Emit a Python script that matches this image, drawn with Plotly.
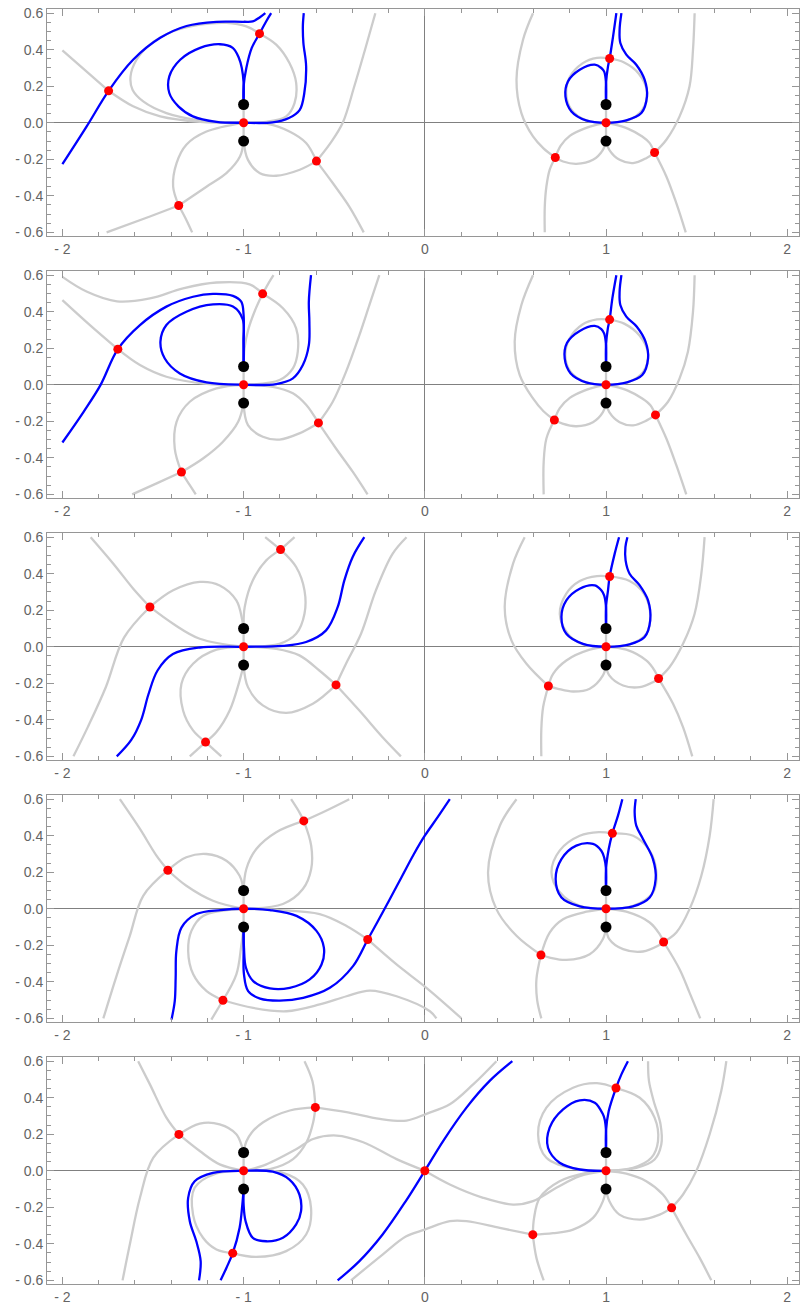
import plotly.graph_objects as go

# ---------------- data ----------------
BLACK_X = [-1, -1, 1, 1]
BLACK_Y = [0.1, -0.1, 0.1, -0.1]

X_TICKS = [-2, -1, 0, 1, 2]
X_TICKTEXT = ["- 2", "- 1", "0", "1", "2"]
Y_TICKS = [-0.6, -0.4, -0.2, 0.0, 0.2, 0.4, 0.6]
Y_TICKTEXT = ["- 0.6", "- 0.4", "- 0.2", "0.0", "0.2", "0.4", "0.6"]

VERT = [[(-1, -0.1), (-1, 0.1)], [(1, -0.1), (1, 0.1)]]

# ---- panel 1 ----
P1_RED_X = [-1.745, -0.912, -1.0, -1.358, -0.598, 1.02, 1.0, 0.72, 1.268]
P1_RED_Y = [0.175, 0.488, 0.0, -0.453, -0.21, 0.352, 0.0, -0.19, -0.163]
P1_BLUE = [
    [(-2.0, -0.227), (-1.866, -0.02), (-1.745, 0.175), (-1.61, 0.345), (-1.46, 0.465), (-1.315, 0.53),
     (-1.15, 0.553), (-1.0, 0.553), (-0.95, 0.555), (-0.91, 0.578), (-0.88, 0.6)],
    [(-1.0, 0.1), (-1.0, 0.2), (-0.985, 0.3), (-0.955, 0.41), (-0.912, 0.488), (-0.875, 0.556), (-0.848, 0.6)],
    [(-1.0, 0.1), (-1.0, 0.22), (-1.01, 0.3), (-1.026, 0.355), (-1.06, 0.41), (-1.13, 0.43), (-1.24, 0.41),
     (-1.35, 0.345), (-1.41, 0.254), (-1.41, 0.163), (-1.36, 0.09), (-1.28, 0.035), (-1.15, 0.005), (-1.0, 0.0),
     (-0.84, 0.002), (-0.75, 0.026), (-0.69, 0.071), (-0.665, 0.163), (-0.655, 0.31), (-0.67, 0.437),
     (-0.673, 0.528), (-0.668, 0.6)],
    [(1.0, 0.1), (1.0, 0.218), (1.011, 0.309), (1.02, 0.352), (1.039, 0.473), (1.057, 0.6)],
    [(1.0, 0.1), (1.0, 0.218), (0.99, 0.28), (0.974, 0.3), (0.938, 0.318), (0.855, 0.29), (0.79, 0.226),
     (0.776, 0.144), (0.809, 0.062), (0.89, 0.013), (1.0, 0.0), (1.112, 0.013), (1.195, 0.053), (1.226, 0.144),
     (1.213, 0.236), (1.167, 0.318), (1.112, 0.373), (1.079, 0.437), (1.075, 0.51), (1.085, 0.6)],
]
P1_GRAY = [
    [(-2.0, 0.396), (-1.866, 0.28), (-1.745, 0.175)],
    [(-1.745, 0.175), (-1.61, 0.09), (-1.46, 0.035), (-1.24, 0.005), (-1.0, 0.0)],
    [(-1.0, 0.0), (-1.242, 0.013), (-1.426, 0.053), (-1.554, 0.117), (-1.613, 0.181), (-1.624, 0.254),
     (-1.591, 0.345), (-1.517, 0.428), (-1.389, 0.501), (-1.242, 0.537), (-1.095, 0.547), (-0.985, 0.528),
     (-0.912, 0.488)],
    [(-0.912, 0.488), (-0.82, 0.428), (-0.747, 0.327), (-0.71, 0.218), (-0.719, 0.108), (-0.765, 0.035),
     (-0.875, 0.005), (-1.0, 0.0)],
    [(-1.0, -0.1), (-1.02, -0.185), (-1.095, -0.276), (-1.205, -0.35), (-1.358, -0.453)],
    [(-1.358, -0.453), (-1.517, -0.513), (-1.756, -0.6)],
    [(-1.0, -0.1), (-0.976, -0.203), (-0.91, -0.276), (-0.82, -0.29), (-0.69, -0.257), (-0.598, -0.21)],
    [(-0.598, -0.21), (-0.52, -0.11), (-0.453, 0.0), (-0.389, 0.2), (-0.33, 0.4), (-0.273, 0.6)],
    [(-1.0, 0.0), (-0.875, -0.005), (-0.747, -0.048), (-0.655, -0.111), (-0.598, -0.21)],
    [(-0.598, -0.21), (-0.508, -0.33), (-0.416, -0.46), (-0.337, -0.6)],
    [(-1.0, 0.0), (-1.205, -0.048), (-1.316, -0.12), (-1.37, -0.221), (-1.389, -0.349), (-1.358, -0.453)],
    [(-1.358, -0.453), (-1.316, -0.532), (-1.284, -0.6)],
    [(0.597, 0.6), (0.542, 0.455), (0.506, 0.236), (0.533, 0.053), (0.597, -0.075), (0.655, -0.14), (0.72, -0.19)],
    [(0.72, -0.19), (0.689, -0.258), (0.671, -0.349), (0.662, -0.459), (0.662, -0.6)],
    [(1.0, 0.0), (0.95, -0.01), (0.88, -0.032), (0.8, -0.072), (0.75, -0.125), (0.72, -0.19)],
    [(1.0, -0.1), (0.983, -0.148), (0.928, -0.203), (0.836, -0.225), (0.763, -0.212), (0.72, -0.19)],
    [(1.489, 0.6), (1.48, 0.4), (1.461, 0.2), (1.406, 0.035), (1.333, -0.093), (1.268, -0.163)],
    [(1.268, -0.163), (1.333, -0.294), (1.388, -0.44), (1.44, -0.6)],
    [(1.0, 0.0), (1.05, -0.01), (1.12, -0.032), (1.2, -0.075), (1.24, -0.11), (1.268, -0.163)],
    [(1.0, -0.1), (1.018, -0.148), (1.075, -0.203), (1.149, -0.221), (1.222, -0.194), (1.268, -0.163)],
    [(1.0, 0.0), (0.89, 0.013), (0.81, 0.07), (0.78, 0.16), (0.8, 0.25), (0.87, 0.325), (0.95, 0.355), (1.02, 0.352)],
    [(1.02, 0.352), (1.1, 0.33), (1.18, 0.27), (1.226, 0.17), (1.2, 0.07), (1.12, 0.013), (1.0, 0.0)],
]

# ---- panel 2 ----
P2_RED_X = [-1.694, -0.895, -1.0, -1.343, -0.587, 1.02, 1.0, 0.715, 1.273]
P2_RED_Y = [0.195, 0.498, 0.0, -0.478, -0.209, 0.357, 0.0, -0.193, -0.165]
P2_BLUE = [
    [(-2.0, -0.316), (-1.883, -0.148), (-1.79, -0.002), (-1.694, 0.195), (-1.572, 0.327), (-1.426, 0.428),
     (-1.279, 0.482), (-1.169, 0.498), (-1.059, 0.487), (-1.013, 0.455), (-1.0, 0.382), (-1.0, 0.236), (-1.0, 0.1)],
    [(-1.0, 0.1), (-1.0, 0.236), (-1.005, 0.36), (-1.059, 0.428), (-1.169, 0.44), (-1.316, 0.4), (-1.426, 0.327),
     (-1.459, 0.236), (-1.435, 0.144), (-1.352, 0.062), (-1.205, 0.013), (-1.0, 0.0), (-0.82, 0.004),
     (-0.728, 0.035), (-0.673, 0.108), (-0.64, 0.217), (-0.637, 0.345), (-0.64, 0.455), (-0.628, 0.6)],
    [(1.0, 0.1), (1.0, 0.218), (1.01, 0.309), (1.02, 0.357), (1.035, 0.473), (1.057, 0.6)],
    [(1.0, 0.1), (1.0, 0.218), (0.99, 0.28), (0.974, 0.305), (0.938, 0.322), (0.855, 0.295), (0.785, 0.23),
     (0.772, 0.144), (0.805, 0.062), (0.89, 0.013), (1.0, 0.0), (1.115, 0.013), (1.2, 0.053), (1.232, 0.144),
     (1.218, 0.236), (1.17, 0.318), (1.112, 0.373), (1.079, 0.437), (1.075, 0.51), (1.085, 0.6)],
]
P2_GRAY = [
    [(-2.0, 0.591), (-1.864, 0.509), (-1.699, 0.457), (-1.517, 0.473), (-1.334, 0.528), (-1.15, 0.56),
     (-0.967, 0.55), (-0.895, 0.498)],
    [(-0.895, 0.498), (-0.783, 0.419), (-0.71, 0.309), (-0.701, 0.181), (-0.728, 0.09), (-0.802, 0.026), (-1.0, 0.0)],
    [(-2.0, 0.464), (-1.848, 0.327), (-1.694, 0.195)],
    [(-1.694, 0.195), (-1.572, 0.108), (-1.426, 0.044), (-1.205, 0.005), (-1.0, 0.0)],
    [(-1.0, 0.1), (-0.995, 0.2), (-0.975, 0.3), (-0.94, 0.4), (-0.895, 0.498)],
    [(-0.895, 0.498), (-0.866, 0.55), (-0.835, 0.6)],
    [(-1.0, -0.1), (-1.03, -0.203), (-1.114, -0.312), (-1.224, -0.404), (-1.343, -0.478)],
    [(-1.343, -0.478), (-1.48, -0.54), (-1.615, -0.6)],
    [(-1.0, 0.0), (-1.15, -0.02), (-1.297, -0.093), (-1.37, -0.203), (-1.38, -0.349), (-1.343, -0.478)],
    [(-1.343, -0.478), (-1.297, -0.55), (-1.264, -0.6)],
    [(-1.0, -0.1), (-0.976, -0.221), (-0.894, -0.285), (-0.802, -0.3), (-0.692, -0.266), (-0.587, -0.209)],
    [(-0.587, -0.209), (-0.508, -0.093), (-0.435, 0.071), (-0.361, 0.272), (-0.306, 0.436), (-0.251, 0.6)],
    [(-1.0, 0.0), (-0.839, -0.011), (-0.728, -0.047), (-0.655, -0.11), (-0.587, -0.209)],
    [(-0.587, -0.209), (-0.49, -0.349), (-0.398, -0.476), (-0.316, -0.6)],
    [(0.597, 0.6), (0.533, 0.437), (0.496, 0.236), (0.524, 0.053), (0.597, -0.075), (0.655, -0.145), (0.715, -0.193)],
    [(0.715, -0.193), (0.671, -0.294), (0.656, -0.422), (0.656, -0.6)],
    [(1.0, 0.0), (0.95, -0.01), (0.88, -0.032), (0.8, -0.072), (0.745, -0.128), (0.715, -0.193)],
    [(1.0, -0.1), (0.983, -0.15), (0.928, -0.205), (0.836, -0.227), (0.76, -0.213), (0.715, -0.193)],
    [(1.489, 0.6), (1.48, 0.4), (1.452, 0.181), (1.406, 0.035), (1.342, -0.093), (1.273, -0.165)],
    [(1.273, -0.165), (1.333, -0.294), (1.388, -0.44), (1.443, -0.6)],
    [(1.0, 0.0), (1.05, -0.01), (1.12, -0.032), (1.2, -0.075), (1.245, -0.112), (1.273, -0.165)],
    [(1.0, -0.1), (1.018, -0.15), (1.075, -0.205), (1.15, -0.222), (1.225, -0.195), (1.273, -0.165)],
    [(1.0, 0.0), (0.89, 0.013), (0.805, 0.07), (0.775, 0.16), (0.8, 0.255), (0.87, 0.33), (0.95, 0.358), (1.02, 0.357)],
    [(1.02, 0.357), (1.1, 0.335), (1.185, 0.27), (1.232, 0.17), (1.205, 0.07), (1.12, 0.013), (1.0, 0.0)],
]

# ---- panel 3 ----
P3_RED_X = [-1.517, -0.796, -1.0, -1.21, -0.49, 1.02, 1.0, 0.682, 1.29]
P3_RED_Y = [0.218, 0.532, 0.0, -0.522, -0.209, 0.385, 0.0, -0.215, -0.174]
P3_BLUE = [
    [(-1.70, -0.6), (-1.62, -0.51), (-1.565, -0.4), (-1.525, -0.26), (-1.475, -0.13), (-1.39, -0.04),
     (-1.242, -0.004), (-1.0, 0.0), (-0.783, 0.005), (-0.655, 0.026), (-0.545, 0.09), (-0.481, 0.217),
     (-0.444, 0.364), (-0.398, 0.492), (-0.334, 0.6)],
    [(1.0, 0.1), (1.0, 0.218), (1.011, 0.309), (1.02, 0.385), (1.048, 0.51), (1.072, 0.6)],
    [(1.0, 0.1), (1.0, 0.218), (0.99, 0.28), (0.974, 0.309), (0.938, 0.336), (0.855, 0.318), (0.781, 0.254),
     (0.754, 0.163), (0.781, 0.071), (0.873, 0.016), (1.0, 0.0), (1.13, 0.013), (1.213, 0.053), (1.244, 0.144),
     (1.232, 0.254), (1.186, 0.336), (1.13, 0.4), (1.108, 0.473), (1.107, 0.546), (1.118, 0.6)],
]
P3_GRAY = [
    [(-1.844, 0.6), (-1.719, 0.455), (-1.609, 0.318), (-1.517, 0.218)],
    [(-1.517, 0.218), (-1.389, 0.126), (-1.242, 0.044), (-1.0, 0.0)],
    [(-1.939, -0.6), (-1.86, -0.44), (-1.76, -0.22), (-1.66, 0.05), (-1.517, 0.218)],
    [(-1.517, 0.218), (-1.389, 0.309), (-1.242, 0.355), (-1.132, 0.336), (-1.04, 0.254), (-1.007, 0.144), (-1.0, 0.1)],
    [(-1.0, 0.1), (-0.994, 0.217), (-0.949, 0.364), (-0.875, 0.473), (-0.796, 0.532)],
    [(-0.796, 0.532), (-0.719, 0.6)],
    [(-0.881, 0.6), (-0.796, 0.532)],
    [(-0.796, 0.532), (-0.71, 0.437), (-0.664, 0.309), (-0.664, 0.181), (-0.71, 0.071), (-0.802, 0.016), (-1.0, 0.0)],
    [(-1.0, -0.1), (-1.022, -0.185), (-1.077, -0.349), (-1.15, -0.467), (-1.21, -0.522)],
    [(-1.21, -0.522), (-1.297, -0.6)],
    [(-1.0, 0.0), (-1.15, -0.016), (-1.279, -0.093), (-1.343, -0.203), (-1.334, -0.349), (-1.279, -0.458),
     (-1.21, -0.522)],
    [(-1.21, -0.522), (-1.123, -0.6)],
    [(-1.0, -0.1), (-0.976, -0.221), (-0.894, -0.321), (-0.765, -0.362), (-0.618, -0.312), (-0.49, -0.209)],
    [(-0.49, -0.209), (-0.435, -0.093), (-0.352, 0.071), (-0.27, 0.309), (-0.178, 0.509), (-0.101, 0.6)],
    [(-1.0, 0.0), (-0.82, -0.011), (-0.692, -0.047), (-0.582, -0.13), (-0.49, -0.209)],
    [(-0.49, -0.209), (-0.361, -0.349), (-0.233, -0.495), (-0.132, -0.6)],
    [(0.551, 0.6), (0.487, 0.455), (0.441, 0.217), (0.478, 0.035), (0.561, -0.093), (0.682, -0.215)],
    [(0.682, -0.215), (0.653, -0.33), (0.643, -0.45), (0.643, -0.6)],
    [(1.544, 0.6), (1.526, 0.4), (1.489, 0.181), (1.425, 0.016), (1.351, -0.111), (1.29, -0.174)],
    [(1.29, -0.174), (1.37, -0.312), (1.425, -0.44), (1.476, -0.6)],
    [(1.0, 0.0), (0.873, 0.013), (0.79, 0.07), (0.745, 0.18), (0.78, 0.29), (0.855, 0.36), (0.95, 0.387), (1.02, 0.385)],
    [(1.02, 0.385), (1.13, 0.36), (1.21, 0.29), (1.244, 0.18), (1.222, 0.07), (1.13, 0.013), (1.0, 0.0)],
    [(1.0, -0.1), (0.983, -0.157), (0.91, -0.23), (0.818, -0.245), (0.735, -0.23), (0.682, -0.215)],
    [(1.0, 0.0), (0.91, -0.016), (0.781, -0.075), (0.708, -0.148), (0.682, -0.215)],
    [(1.0, -0.1), (1.018, -0.157), (1.094, -0.212), (1.186, -0.221), (1.259, -0.194), (1.29, -0.174)],
    [(1.0, 0.0), (1.112, -0.016), (1.222, -0.075), (1.268, -0.13), (1.29, -0.174)],
]

# ---- panel 4 ----
P4_RED_X = [-1.418, -0.668, -1.0, -1.114, -0.315, 1.035, 1.0, 0.641, 1.318]
P4_RED_Y = [0.211, 0.481, 0.0, -0.501, -0.168, 0.413, 0.0, -0.253, -0.182]
P4_BLUE = [
    [(-1.398, -0.607), (-1.38, -0.506), (-1.375, -0.378), (-1.371, -0.231), (-1.343, -0.103), (-1.26, -0.029),
     (-1.127, -0.007), (-1.0, 0.0), (-0.855, -0.007), (-0.708, -0.039), (-0.598, -0.121), (-0.557, -0.213),
     (-0.57, -0.305), (-0.635, -0.387), (-0.745, -0.433), (-0.855, -0.436), (-0.947, -0.396), (-0.987, -0.323),
     (-0.998, -0.213), (-1.0, -0.1)],
    [(-1.0, -0.1), (-1.0, -0.23), (-0.998, -0.359), (-0.975, -0.451), (-0.909, -0.492), (-0.8, -0.503),
     (-0.671, -0.488), (-0.524, -0.433), (-0.396, -0.314), (-0.315, -0.168), (-0.26, -0.07), (-0.2, 0.04),
     (-0.13, 0.17), (-0.06, 0.3), (0.0, 0.4), (0.07, 0.5), (0.138, 0.6)],
    [(1.0, 0.1), (1.0, 0.218), (1.015, 0.327), (1.035, 0.413), (1.066, 0.51), (1.09, 0.6)],
    [(1.0, 0.1), (1.0, 0.218), (0.99, 0.28), (0.974, 0.318), (0.928, 0.355), (0.836, 0.346), (0.754, 0.272),
     (0.722, 0.163), (0.754, 0.062), (0.855, 0.013), (1.0, 0.0), (1.149, 0.013), (1.241, 0.062), (1.274, 0.163),
     (1.259, 0.272), (1.204, 0.382), (1.167, 0.455), (1.158, 0.528), (1.164, 0.6)],
]
P4_GRAY = [
    [(-1.683, 0.6), (-1.572, 0.437), (-1.481, 0.291), (-1.418, 0.211)],
    [(-1.418, 0.211), (-1.316, 0.126), (-1.169, 0.044), (-1.0, 0.0)],
    [(-1.774, -0.6), (-1.701, -0.367), (-1.628, -0.148), (-1.554, 0.071), (-1.418, 0.211)],
    [(-1.418, 0.211), (-1.316, 0.282), (-1.205, 0.3), (-1.095, 0.263), (-1.022, 0.181), (-1.004, 0.126), (-1.0, 0.1)],
    [(-1.0, 0.1), (-0.985, 0.218), (-0.93, 0.327), (-0.82, 0.419), (-0.668, 0.481)],
    [(-0.668, 0.481), (-0.545, 0.537), (-0.417, 0.6)],
    [(-0.738, 0.6), (-0.692, 0.528), (-0.668, 0.481)],
    [(-0.668, 0.481), (-0.627, 0.345), (-0.627, 0.218), (-0.673, 0.108), (-0.783, 0.026), (-1.0, 0.0)],
    [(-1.0, -0.1), (-1.013, -0.203), (-1.04, -0.359), (-1.114, -0.501)],
    [(-1.114, -0.501), (-1.178, -0.607)],
    [(-1.0, 0.0), (-1.224, -0.039), (-1.288, -0.121), (-1.306, -0.231), (-1.278, -0.359), (-1.204, -0.451),
     (-1.114, -0.501)],
    [(-1.114, -0.501), (-0.947, -0.543), (-0.763, -0.561), (-0.58, -0.524), (-0.432, -0.479), (-0.304, -0.448),
     (-0.156, -0.479), (0.028, -0.561), (0.064, -0.6)],
    [(-1.0, 0.0), (-0.8, -0.007), (-0.58, -0.029), (-0.432, -0.094), (-0.315, -0.168)],
    [(-0.315, -0.168), (-0.156, -0.305), (0.009, -0.433), (0.202, -0.6)],
    [(0.506, 0.6), (0.414, 0.455), (0.349, 0.2), (0.395, -0.002), (0.506, -0.148), (0.641, -0.253)],
    [(0.641, -0.253), (0.616, -0.386), (0.62, -0.5), (0.643, -0.6)],
    [(1.594, 0.6), (1.572, 0.4), (1.526, 0.181), (1.461, -0.002), (1.388, -0.13), (1.318, -0.182)],
    [(1.318, -0.182), (1.406, -0.331), (1.461, -0.459), (1.52, -0.6)],
    [(1.0, 0.0), (0.855, 0.016), (0.745, 0.09), (0.699, 0.2), (0.745, 0.32), (0.855, 0.4), (0.96, 0.42), (1.035, 0.413)],
    [(1.035, 0.413), (1.15, 0.4), (1.24, 0.32), (1.278, 0.2), (1.26, 0.09), (1.15, 0.016), (1.0, 0.0)],
    [(1.0, -0.1), (0.983, -0.166), (0.91, -0.249), (0.781, -0.28), (0.689, -0.267), (0.641, -0.253)],
    [(1.0, 0.0), (0.892, -0.016), (0.763, -0.057), (0.689, -0.13), (0.641, -0.253)],
    [(1.0, -0.1), (1.018, -0.166), (1.094, -0.221), (1.204, -0.234), (1.287, -0.203), (1.318, -0.182)],
    [(1.0, 0.0), (1.112, -0.016), (1.241, -0.075), (1.296, -0.139), (1.318, -0.182)],
]

# ---- panel 5 ----
P5_RED_X = [-1.357, -0.604, -1.0, -1.06, 0.0, 1.055, 1.0, 0.596, 1.362]
P5_RED_Y = [0.199, 0.347, 0.0, -0.451, 0.0, 0.453, 0.0, -0.35, -0.203]
P5_BLUE = [
    [(-1.246, -0.6), (-1.237, -0.495), (-1.261, -0.386), (-1.297, -0.276), (-1.306, -0.148), (-1.27, -0.057),
     (-1.169, -0.011), (-1.0, 0.0), (-0.839, -0.005), (-0.747, -0.048), (-0.692, -0.13), (-0.683, -0.221),
     (-0.71, -0.294), (-0.783, -0.367), (-0.875, -0.386), (-0.949, -0.367), (-0.989, -0.276), (-1.0, -0.185),
     (-1.0, -0.1)],
    [(-1.0, -0.1), (-1.007, -0.185), (-1.022, -0.312), (-1.06, -0.451), (-1.095, -0.532), (-1.127, -0.6)],
    [(-0.481, -0.6), (-0.361, -0.495), (-0.233, -0.349), (-0.105, -0.166), (0.0, 0.0), (0.101, 0.163),
     (0.23, 0.346), (0.358, 0.492), (0.483, 0.6)],
    [(1.0, 0.1), (1.0, 0.218), (1.015, 0.327), (1.055, 0.453), (1.085, 0.528), (1.121, 0.6)],
    [(1.0, 0.1), (1.0, 0.218), (0.993, 0.28), (0.983, 0.309), (0.938, 0.373), (0.855, 0.386), (0.763, 0.336),
     (0.689, 0.236), (0.68, 0.126), (0.744, 0.044), (0.855, 0.007), (1.0, 0.0)],
]
P5_GRAY = [
    [(-1.582, 0.6), (-1.517, 0.473), (-1.426, 0.291), (-1.357, 0.199)],
    [(-1.357, 0.199), (-1.242, 0.108), (-1.132, 0.035), (-1.0, 0.0)],
    [(-1.668, -0.6), (-1.628, -0.404), (-1.572, -0.148), (-1.499, 0.071), (-1.357, 0.199)],
    [(-1.357, 0.199), (-1.242, 0.258), (-1.132, 0.254), (-1.04, 0.2), (-1.007, 0.126), (-1.0, 0.1)],
    [(-1.0, 0.1), (-0.985, 0.16), (-0.955, 0.21), (-0.892, 0.266), (-0.745, 0.33), (-0.604, 0.347)],
    [(-0.604, 0.347), (-0.432, 0.321), (-0.248, 0.284), (-0.101, 0.275), (0.009, 0.312), (0.138, 0.364),
     (0.267, 0.473), (0.395, 0.6)],
    [(-0.664, 0.6), (-0.62, 0.49), (-0.604, 0.347)],
    [(-0.604, 0.347), (-0.616, 0.266), (-0.653, 0.156), (-0.727, 0.064), (-0.855, 0.009), (-1.0, 0.0)],
    [(-1.0, 0.0), (-0.892, 0.028), (-0.708, 0.119), (-0.616, 0.174), (-0.487, 0.193), (-0.34, 0.156),
     (-0.156, 0.064), (0.0, 0.0)],
    [(0.0, 0.0), (0.138, -0.075), (0.322, -0.148), (0.487, -0.185), (0.597, -0.166), (0.726, -0.093),
     (0.855, -0.029), (1.0, 0.0)],
    [(-1.0, 0.0), (-1.15, -0.015), (-1.27, -0.093), (-1.279, -0.24), (-1.224, -0.367), (-1.15, -0.431),
     (-1.06, -0.451)],
    [(-1.06, -0.451), (-0.93, -0.472), (-0.765, -0.44), (-0.655, -0.349), (-0.628, -0.203), (-0.673, -0.075),
     (-0.783, -0.011), (-1.0, 0.0)],
    [(-0.407, -0.6), (-0.233, -0.459), (-0.105, -0.36), (0.0, -0.322), (0.138, -0.276), (0.23, -0.276),
     (0.414, -0.313), (0.596, -0.35)],
    [(1.0, 0.0), (0.818, 0.013), (0.671, 0.071), (0.625, 0.2), (0.671, 0.346), (0.818, 0.455), (0.95, 0.48),
     (1.055, 0.453)],
    [(1.055, 0.453), (1.186, 0.4), (1.268, 0.291), (1.287, 0.163), (1.25, 0.071), (1.149, 0.016), (1.0, 0.0)],
    [(1.232, 0.6), (1.237, 0.492), (1.263, 0.382), (1.301, 0.254), (1.305, 0.144), (1.268, 0.062),
     (1.167, 0.016), (1.0, 0.0)],
    [(1.664, 0.6), (1.636, 0.437), (1.572, 0.2), (1.498, -0.002), (1.425, -0.13), (1.362, -0.203)],
    [(1.362, -0.203), (1.443, -0.349), (1.517, -0.477), (1.581, -0.6)],
    [(1.0, -0.1), (0.983, -0.166), (0.928, -0.258), (0.818, -0.322), (0.708, -0.342), (0.596, -0.35)],
    [(1.0, 0.0), (0.892, -0.011), (0.744, -0.057), (0.634, -0.148), (0.603, -0.258), (0.596, -0.35)],
    [(0.596, -0.35), (0.616, -0.477), (0.656, -0.6)],
    [(1.0, -0.1), (1.018, -0.166), (1.074, -0.24), (1.186, -0.267), (1.296, -0.24), (1.362, -0.203)],
    [(1.0, 0.0), (1.112, -0.016), (1.222, -0.057), (1.314, -0.13), (1.362, -0.203)],
]

PANELS = [
    (P1_GRAY, P1_BLUE, P1_RED_X, P1_RED_Y),
    (P2_GRAY, P2_BLUE, P2_RED_X, P2_RED_Y),
    (P3_GRAY, P3_BLUE, P3_RED_X, P3_RED_Y),
    (P4_GRAY, P4_BLUE, P4_RED_X, P4_RED_Y),
    (P5_GRAY, P5_BLUE, P5_RED_X, P5_RED_Y),
]

# ---------------- styling / layout ----------------
W, H = 805, 1307
MT, MB, ML, MR = 9, 23, 47, 6
PANEL_H, PITCH = 227, 262
GRAY = "rgb(204,204,204)"
BLUE = "rgb(0,0,255)"
FRAME = "rgb(150,150,150)"
LABEL = "rgb(100,100,100)"
FONT = dict(family="Liberation Sans, Arial, sans-serif", size=14, color=LABEL)

fig = go.Figure()
plot_h = H - MT - MB
layout = {}
for i, (gray, blue, rx, ry) in enumerate(PANELS):
    k = "" if i == 0 else str(i + 1)
    xa, ya = "x" + k, "y" + k
    for curve in VERT + gray:
        fig.add_trace(go.Scatter(x=[p[0] for p in curve], y=[p[1] for p in curve], mode="lines",
                                 line=dict(color=GRAY, width=2.3, shape="spline", smoothing=1.0),
                                 xaxis=xa, yaxis=ya, hoverinfo="skip"))
    for curve in blue:
        fig.add_trace(go.Scatter(x=[p[0] for p in curve], y=[p[1] for p in curve], mode="lines",
                                 line=dict(color=BLUE, width=2.3, shape="spline", smoothing=1.0),
                                 xaxis=xa, yaxis=ya, hoverinfo="skip"))
    fig.add_trace(go.Scatter(x=rx, y=ry, mode="markers", marker=dict(color="rgb(255,0,0)", size=9),
                             xaxis=xa, yaxis=ya, cliponaxis=False))
    fig.add_trace(go.Scatter(x=BLACK_X, y=BLACK_Y, mode="markers", marker=dict(color="black", size=11),
                             xaxis=xa, yaxis=ya, cliponaxis=False))
    top = 1 - (i * PITCH) / plot_h
    bot = 1 - (i * PITCH + PANEL_H) / plot_h
    common = dict(showgrid=False, showline=True, linecolor=FRAME, linewidth=1, mirror="ticks",
                  ticks="inside", tickcolor=FRAME, tickwidth=1, ticklen=7, tickfont=FONT,
                  zeroline=True, zerolinecolor="rgb(128,128,128)", zerolinewidth=1, fixedrange=True,
                  automargin=False, ticklabeloverflow="allow")
    layout["xaxis" + k] = dict(common, domain=[0, 1], range=[-2.085, 2.065], anchor=ya,
                               tickmode="array", tickvals=X_TICKS, ticktext=X_TICKTEXT,
                               minor=dict(tickmode="array",
                                          tickvals=[round(-2 + 0.2 * j, 2) for j in range(21)],
                                          ticks="inside", ticklen=4, tickcolor=FRAME))
    layout["yaxis" + k] = dict(common, domain=[bot, top], range=[-0.62, 0.623], anchor=xa,
                               tickmode="array", tickvals=Y_TICKS, ticktext=Y_TICKTEXT,
                               minor=dict(tickmode="array",
                                          tickvals=[round(-0.6 + 0.05 * j, 2) for j in range(25)],
                                          ticks="inside", ticklen=4, tickcolor=FRAME))

fig.update_layout(width=W, height=H, margin=dict(l=ML, r=MR, t=MT, b=MB), showlegend=False,
                  plot_bgcolor="white", paper_bgcolor="white", hovermode=False, **layout)
fig.write_html("out.html", config={"displayModeBar": False, "staticPlot": True},
               post_script="document.body.style.margin='0';document.body.style.overflow='hidden';")
